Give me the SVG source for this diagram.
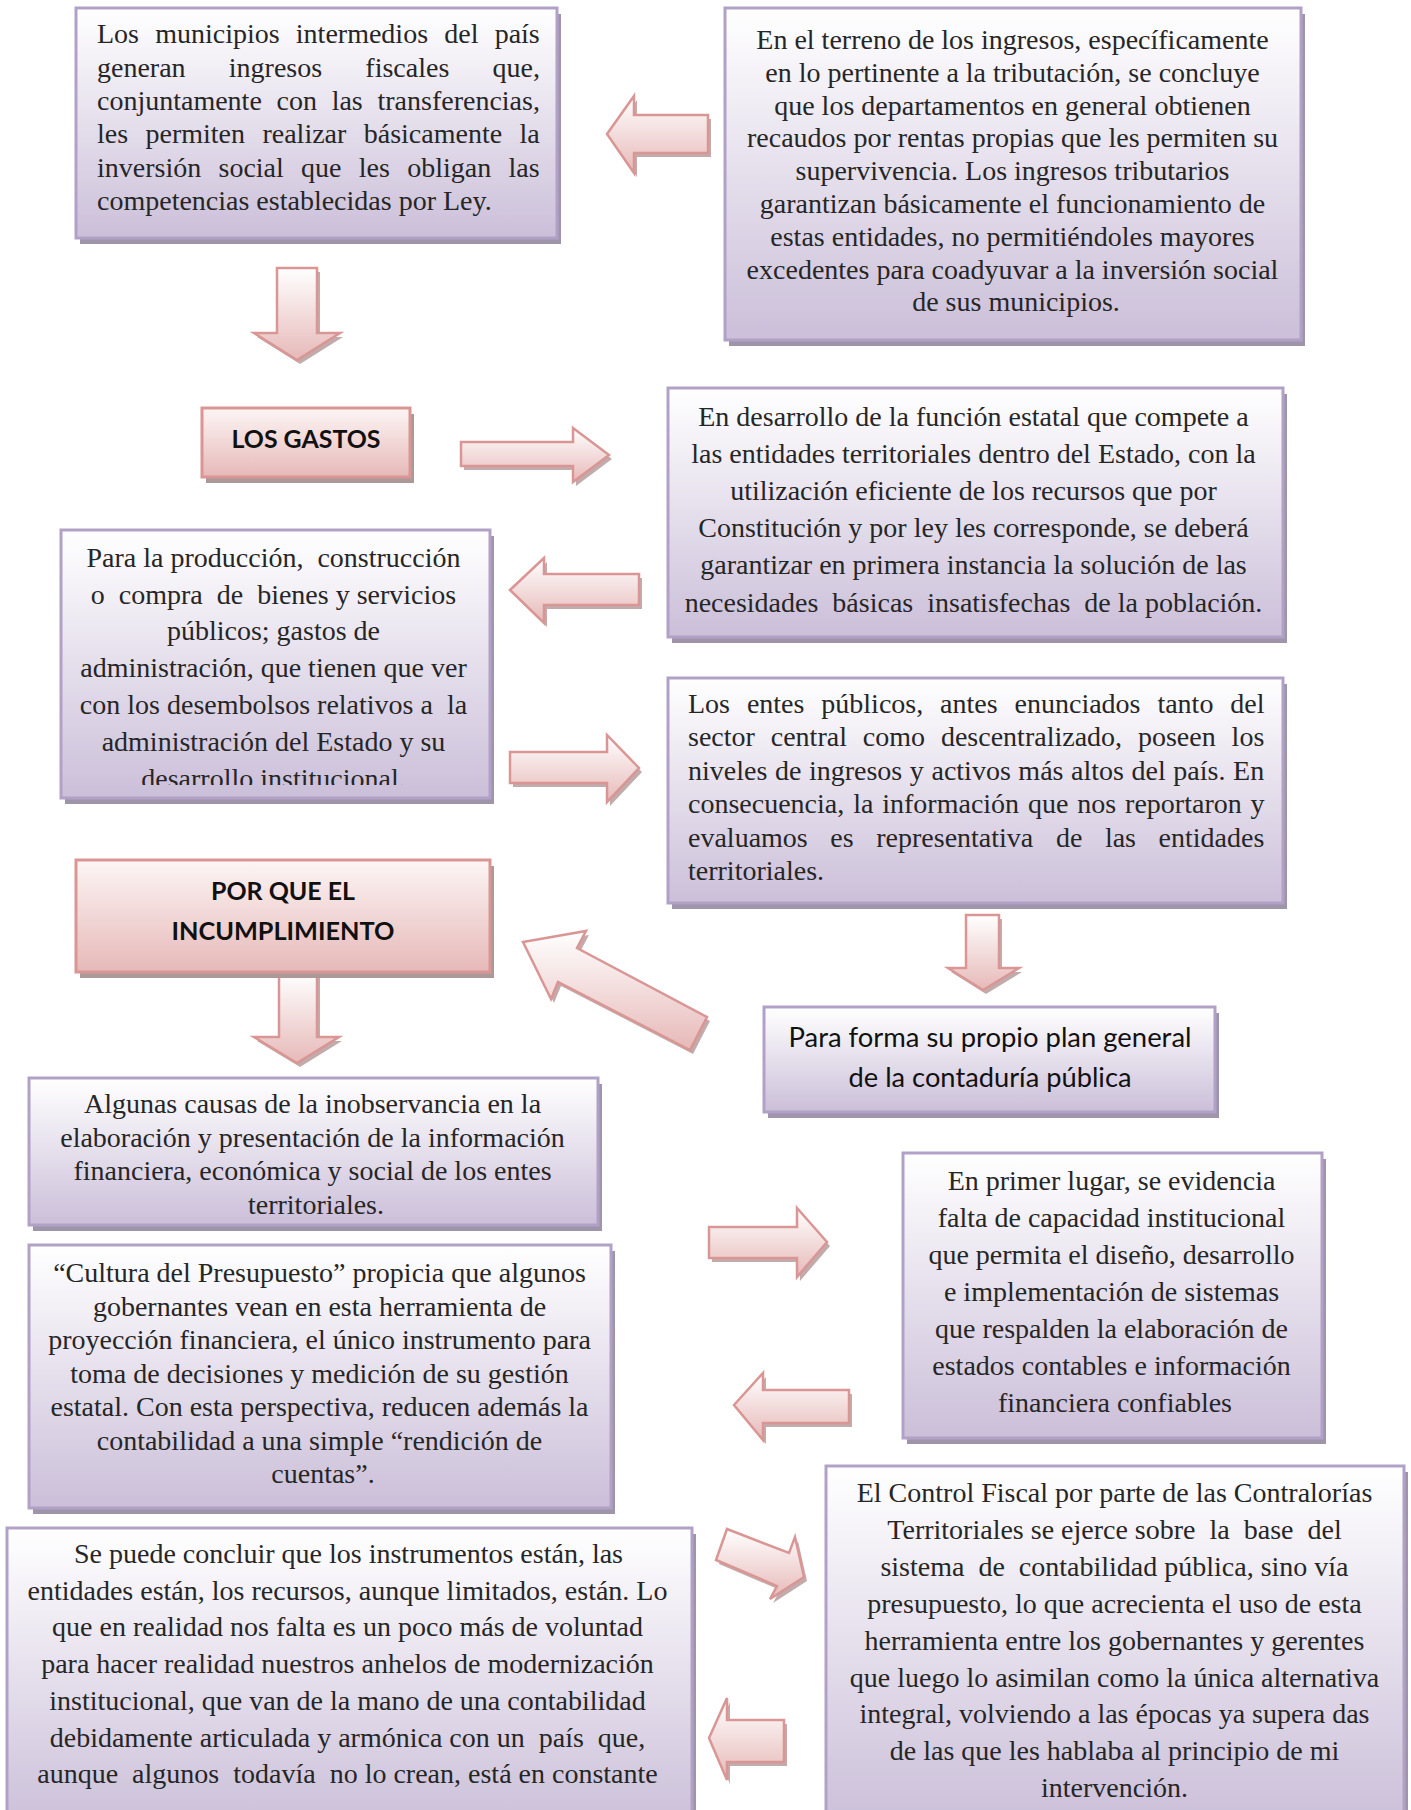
<svg xmlns="http://www.w3.org/2000/svg" xmlns:xlink="http://www.w3.org/1999/xlink" width="1411" height="1810" viewBox="0 0 1411 1810">
<defs>
<linearGradient id="gP" x1="0" y1="0" x2="0" y2="1"><stop offset="0" stop-color="#ffffff"/><stop offset="1" stop-color="#cbbfd9"/></linearGradient>
<linearGradient id="gR" x1="0" y1="0" x2="0" y2="1"><stop offset="0" stop-color="#fdf5f5"/><stop offset="1" stop-color="#e6b9b8"/></linearGradient>
<linearGradient id="gA" x1="0" y1="0" x2="0" y2="1"><stop offset="0" stop-color="#ffffff"/><stop offset="1" stop-color="#e6b9b8"/></linearGradient>
<clipPath id="clipD"><rect x="61" y="530" width="429" height="255"/></clipPath>
<style>
.box{fill:url(#gP);stroke:#b2a1c7;stroke-width:3}
.bsh{fill:#9f95ab}
.pbox{fill:url(#gR);stroke:#d99694;stroke-width:3}
.psh{fill:#ad9898}
.arrow{fill:url(#gA);stroke:#d99694;stroke-width:2.5;stroke-linejoin:miter}
.ash{fill:#b79c9c;opacity:.85}
.t{font-family:"Liberation Serif","Times New Roman",serif;font-size:28px;fill:#262626}
.c{text-anchor:middle}
.s{font-family:Lato,"Liberation Sans",Arial,sans-serif;fill:#111111}
.b{font-weight:700;font-size:25px}
.r{font-size:27px}
</style>
</defs>

<g id="connectors">
<polygon class="ash" transform="translate(3,4)" points="607,134 634,96 634,115 708,115 708,153 634,153 634,173"/>
<polygon class="arrow" points="607,134 634,96 634,115 708,115 708,153 634,153 634,173"/>
<polygon class="ash" transform="translate(3,4)" points="277,268 317,268 317,333 340,333 297,360 254,333 277,333"/>
<polygon class="arrow" points="277,268 317,268 317,333 340,333 297,360 254,333 277,333"/>
<polygon class="ash" transform="translate(3,4)" points="461,442 573,442 573,428 609,455 573,482 573,466 461,466"/>
<polygon class="arrow" points="461,442 573,442 573,428 609,455 573,482 573,466 461,466"/>
<polygon class="ash" transform="translate(3,4)" points="510,590 544,558 544,574 639,574 639,605 544,605 544,623"/>
<polygon class="arrow" points="510,590 544,558 544,574 639,574 639,605 544,605 544,623"/>
<polygon class="ash" transform="translate(3,4)" points="510,752 607,752 607,735 639,768 607,802 607,783 510,783"/>
<polygon class="arrow" points="510,752 607,752 607,735 639,768 607,802 607,783 510,783"/>
<polygon class="ash" transform="translate(3,4)" points="279,973 317,973 317,1037 339,1037 297,1063 254,1037 279,1037"/>
<polygon class="arrow" points="279,973 317,973 317,1037 339,1037 297,1063 254,1037 279,1037"/>
<polygon class="ash" transform="translate(3,4)" points="966,915 999,915 999,968 1019,968 983,990 948,968 966,968"/>
<polygon class="arrow" points="966,915 999,915 999,968 1019,968 983,990 948,968 966,968"/>
<polygon class="ash" transform="translate(3,4)" points="523,942 586,931 577,948 707,1017 690,1050 558,982 551,999"/>
<polygon class="arrow" points="523,942 586,931 577,948 707,1017 690,1050 558,982 551,999"/>
<polygon class="ash" transform="translate(3,4)" points="709,1227 797,1227 797,1208 827,1242 797,1277 797,1258 709,1258"/>
<polygon class="arrow" points="709,1227 797,1227 797,1208 827,1242 797,1277 797,1258 709,1258"/>
<polygon class="ash" transform="translate(3,4)" points="734,1405 763,1373 763,1390 849,1390 849,1423 763,1423 763,1440"/>
<polygon class="arrow" points="734,1405 763,1373 763,1390 849,1390 849,1423 763,1423 763,1440"/>
<polygon class="ash" transform="translate(3,4)" points="727,1529 789,1553 795,1537 804,1577 770,1599 777,1586 716,1560"/>
<polygon class="arrow" points="727,1529 789,1553 795,1537 804,1577 770,1599 777,1586 716,1560"/>
<polygon class="ash" transform="translate(3,4)" points="709,1738 727,1698 727,1720 784,1720 784,1762 727,1762 727,1780"/>
<polygon class="arrow" points="709,1738 727,1698 727,1720 784,1720 784,1762 727,1762 727,1780"/>
</g>

<g id="node-municipios">
<rect class="bsh" x="80" y="14" width="481" height="230"/>
<rect class="box" x="76" y="8" width="481" height="230"/>
<text class="t" x="97">
<tspan x="97" y="43" word-spacing="9.2">Los municipios intermedios del país</tspan>
<tspan x="97" y="76.5" word-spacing="36.2">generan ingresos fiscales que,</tspan>
<tspan x="97" y="110" word-spacing="7.7">conjuntamente con las transferencias,</tspan>
<tspan x="97" y="143" word-spacing="10.4">les permiten realizar básicamente la</tspan>
<tspan x="97" y="176.5" word-spacing="10.3">inversión social que les obligan las</tspan>
<tspan x="97" y="210">competencias establecidas por Ley.</tspan>
</text>
</g>

<g id="node-ingresos">
<rect class="bsh" x="729" y="14" width="576" height="332"/>
<rect class="box" x="725" y="8" width="576" height="332"/>
<text class="t c">
<tspan x="1016" y="49">En el terreno de los ingresos, específicamente</tspan>
<tspan x="1016" y="81.8">en lo pertinente a la tributación, se concluye</tspan>
<tspan x="1016" y="114.6">que los departamentos en general obtienen</tspan>
<tspan x="1016" y="147.4">recaudos por rentas propias que les permiten su</tspan>
<tspan x="1016" y="180.2">supervivencia. Los ingresos tributarios</tspan>
<tspan x="1016" y="213">garantizan básicamente el funcionamiento de</tspan>
<tspan x="1016" y="245.8">estas entidades, no permitiéndoles mayores</tspan>
<tspan x="1016" y="278.6">excedentes para coadyuvar a la inversión social</tspan>
<tspan x="1016" y="311.4">de sus municipios.</tspan>
</text>
</g>

<g id="node-gastos">
<rect class="psh" x="206" y="414" width="208" height="69"/>
<rect class="pbox" x="202" y="408" width="208" height="69"/>
<text class="s b c" x="306" y="448" textLength="149" lengthAdjust="spacingAndGlyphs">LOS GASTOS</text>
</g>

<g id="node-funcion-estatal">
<rect class="bsh" x="672" y="394" width="615" height="249"/>
<rect class="box" x="668" y="388" width="615" height="249"/>
<text class="t c" xml:space="preserve">
<tspan x="977" y="425.6">En desarrollo de la función estatal que compete a</tspan>
<tspan x="977" y="462.8">las entidades territoriales dentro del Estado, con la</tspan>
<tspan x="977" y="500">utilización eficiente de los recursos que por</tspan>
<tspan x="977" y="537.2">Constitución y por ley les corresponde, se deberá</tspan>
<tspan x="977" y="574.4">garantizar en primera instancia la solución de las</tspan>
<tspan x="977" y="611.6">necesidades  básicas  insatisfechas  de la población.</tspan>
</text>
</g>

<g id="node-produccion">
<rect class="bsh" x="65" y="536" width="429" height="268"/>
<rect class="box" x="61" y="530" width="429" height="268"/>
<text class="t c" xml:space="preserve" clip-path="url(#clipD)">
<tspan x="277" y="567">Para la producción,  construcción</tspan>
<tspan x="277" y="603.7">o  compra  de  bienes y servicios</tspan>
<tspan x="277" y="640.4">públicos; gastos de</tspan>
<tspan x="277" y="677.1">administración, que tienen que ver</tspan>
<tspan x="277" y="713.8">con los desembolsos relativos a  la</tspan>
<tspan x="277" y="750.5">administración del Estado y su</tspan>
<tspan x="277" y="787.5">desarrollo institucional.</tspan>
</text>
</g>

<g id="node-entes-publicos">
<rect class="bsh" x="672" y="684" width="615" height="225"/>
<rect class="box" x="668" y="678" width="615" height="225"/>
<text class="t">
<tspan x="688" y="713" word-spacing="9.9">Los entes públicos, antes enunciados tanto del</tspan>
<tspan x="688" y="746.4" word-spacing="8.9">sector central como descentralizado, poseen los</tspan>
<tspan x="688" y="779.8" word-spacing="0.6">niveles de ingresos y activos más altos del país. En</tspan>
<tspan x="688" y="813.2" word-spacing="1.9">consecuencia, la información que nos reportaron y</tspan>
<tspan x="688" y="846.6" word-spacing="15.6">evaluamos es representativa de las entidades</tspan>
<tspan x="688" y="880">territoriales.</tspan>
</text>
</g>

<g id="node-incumplimiento">
<rect class="psh" x="80" y="866" width="414" height="112"/>
<rect class="pbox" x="76" y="860" width="414" height="112"/>
<text class="s b c" x="283" y="900" textLength="144" lengthAdjust="spacingAndGlyphs">POR QUE EL</text>
<text class="s b c" x="283" y="940" textLength="223" lengthAdjust="spacingAndGlyphs">INCUMPLIMIENTO</text>
</g>

<g id="node-plan-general">
<rect class="bsh" x="768" y="1013" width="451" height="105"/>
<rect class="box" x="764" y="1007" width="451" height="105"/>
<text class="s r c" x="990" y="1046.5" textLength="403" lengthAdjust="spacingAndGlyphs">Para forma su propio plan general</text>
<text class="s r c" x="990" y="1086.5" textLength="283" lengthAdjust="spacingAndGlyphs">de la contaduría pública</text>
</g>

<g id="node-causas">
<rect class="bsh" x="33" y="1084" width="569" height="147"/>
<rect class="box" x="29" y="1078" width="569" height="147"/>
<text class="t c">
<tspan x="316" y="1113">Algunas causas de la inobservancia en la</tspan>
<tspan x="316" y="1146.5">elaboración y presentación de la información</tspan>
<tspan x="316" y="1180">financiera, económica y social de los entes</tspan>
<tspan x="316" y="1213.5">territoriales.</tspan>
</text>
</g>

<g id="node-primer-lugar">
<rect class="bsh" x="907" y="1159" width="419" height="285"/>
<rect class="box" x="903" y="1153" width="419" height="285"/>
<text class="t c">
<tspan x="1115" y="1190">En primer lugar, se evidencia</tspan>
<tspan x="1115" y="1227">falta de capacidad institucional</tspan>
<tspan x="1115" y="1264">que permita el diseño, desarrollo</tspan>
<tspan x="1115" y="1301">e implementación de sistemas</tspan>
<tspan x="1115" y="1338">que respalden la elaboración de</tspan>
<tspan x="1115" y="1375">estados contables e información</tspan>
<tspan x="1115" y="1412">financiera confiables</tspan>
</text>
</g>

<g id="node-cultura">
<rect class="bsh" x="33" y="1251" width="582" height="263"/>
<rect class="box" x="29" y="1245" width="582" height="263"/>
<text class="t c">
<tspan x="323" y="1282">“Cultura del Presupuesto” propicia que algunos</tspan>
<tspan x="323" y="1315.5">gobernantes vean en esta herramienta de</tspan>
<tspan x="323" y="1349">proyección financiera, el único instrumento para</tspan>
<tspan x="323" y="1382.5">toma de decisiones y medición de su gestión</tspan>
<tspan x="323" y="1416">estatal. Con esta perspectiva, reducen además la</tspan>
<tspan x="323" y="1449.5">contabilidad a una simple “rendición de</tspan>
<tspan x="323" y="1483">cuentas”.</tspan>
</text>
</g>

<g id="node-control-fiscal">
<rect class="bsh" x="830" y="1472" width="578" height="360"/>
<rect class="box" x="826" y="1466" width="578" height="360"/>
<text class="t c" xml:space="preserve">
<tspan x="1118" y="1502">El Control Fiscal por parte de las Contralorías</tspan>
<tspan x="1118" y="1538.9">Territoriales se ejerce sobre  la  base  del</tspan>
<tspan x="1118" y="1575.8">sistema  de  contabilidad pública, sino vía</tspan>
<tspan x="1118" y="1612.7">presupuesto, lo que acrecienta el uso de esta</tspan>
<tspan x="1118" y="1649.6">herramienta entre los gobernantes y gerentes</tspan>
<tspan x="1118" y="1686.5">que luego lo asimilan como la única alternativa</tspan>
<tspan x="1118" y="1723.4">integral, volviendo a las épocas ya supera das</tspan>
<tspan x="1118" y="1760.3">de las que les hablaba al principio de mi</tspan>
<tspan x="1118" y="1797.2">intervención.</tspan>
</text>
</g>

<g id="node-conclusion">
<rect class="bsh" x="11" y="1534" width="685" height="300"/>
<rect class="box" x="7" y="1528" width="685" height="300"/>
<text class="t c" xml:space="preserve">
<tspan x="352" y="1563">Se puede concluir que los instrumentos están, las</tspan>
<tspan x="351" y="1599.7">entidades están, los recursos, aunque limitados, están. Lo</tspan>
<tspan x="351" y="1636.4">que en realidad nos falta es un poco más de voluntad</tspan>
<tspan x="351" y="1673.1">para hacer realidad nuestros anhelos de modernización</tspan>
<tspan x="351" y="1709.8">institucional, que van de la mano de una contabilidad</tspan>
<tspan x="351" y="1746.5">debidamente articulada y armónica con un  país  que,</tspan>
<tspan x="351" y="1783.2">aunque  algunos  todavía  no lo crean, está en constante</tspan>
</text>
</g>
</svg>
